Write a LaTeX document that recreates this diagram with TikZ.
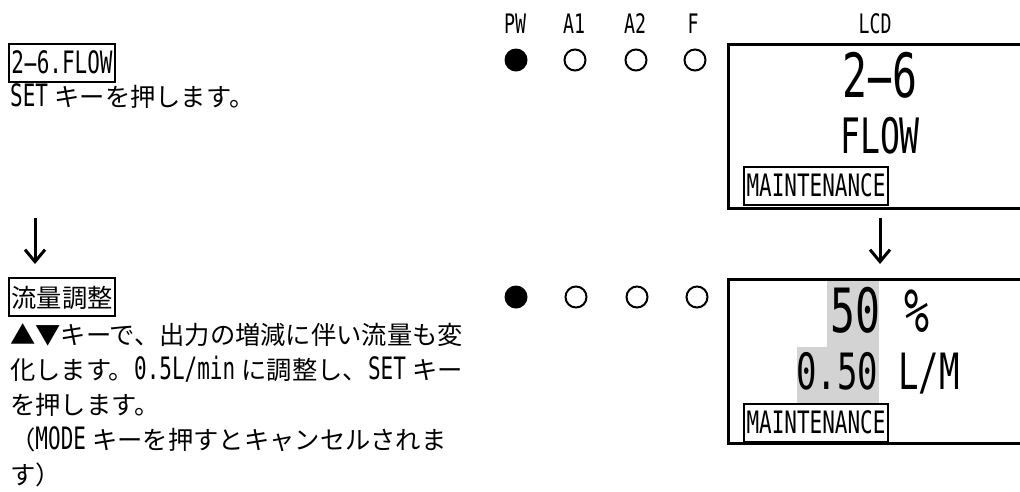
\documentclass[tikz,border=0pt]{standalone}
\usepackage{fontspec}
\setmainfont{Noto Sans CJK JP}
\newfontfamily\latf[Scale=1.22,FakeStretch=0.68]{DejaVu Sans Mono}
\newcommand\lt[1]{{\latf #1}}
\newcommand\jg{\hspace{0.25em}}
\newcommand\hy{\makebox[\fontcharwd\font`0][c]{\scalebox{2.2}[1]{-}}}
\usetikzlibrary{arrows.meta}
\definecolor{hl}{RGB}{211,211,211}
\begin{document}
\begin{tikzpicture}[x=1pt,y=-1pt,
  every node/.style={inner sep=0pt},
  body/.style={font=\fontsize{25.3pt}{35pt}\selectfont, anchor=base west},
  tbox/.style={body, draw, line width=2pt, inner xsep=2.5pt, text height=29.5pt, text depth=8.8pt},
  lbl/.style={font=\fontsize{22pt}{26pt}\selectfont\latf, anchor=base},
  ledoff/.style={circle, minimum size=21pt, line width=2pt, draw},
  ledon/.style={circle, minimum size=23pt, fill=black},
  lcd/.style={draw, line width=2.5pt, anchor=north west, minimum width=320pt, minimum height=164pt},
  big/.style={font=\fontsize{50pt}{55pt}\selectfont\latf, anchor=base},
  mid/.style={font=\fontsize{40pt}{44pt}\selectfont\latf, anchor=base},
  down/.style={line width=3pt, -{Straight Barb[length=12pt,width=20pt,line width=3pt]}}]
\useasboundingbox (0,0) rectangle (1020,491);
\clip (0,0) rectangle (1020,491);

% left column, block 1
\node[tbox] (h1) at (8,73) {\lt{2\hy 6.FLOW}};
\node[body] (s1) at (10,106.6) {\lt{SET}\jg キーを押します。};

% left arrow
\coordinate (la1) at (35,218);
\coordinate (la2) at (35,264);
\draw[down] (la1) -- (la2);

% left column, block 2
\node[tbox] (h2) at (8,307.6) {流量調整};
\node[body] (t1) at (10,344.6) {▲▼キーで、出力の増減に伴い流量も変};
\node[body] (t2) at (10,379.6) {化します。\lt{0.5L/min}\jg に調整し、\lt{SET}\jg キー};
\node[body] (t3) at (10,414.6) {を押します。};
\node[body] (t4) at (10,449.6) {（\lt{MODE}\jg キーを押すとキャンセルされま};
\node[body] (t5) at (10,484.6) {す）};

% LED labels
\node[lbl] (lpw) at (515,33) {PW};
\node[lbl] (la1l) at (574,33) {A1};
\node[lbl] (la2l) at (635,33) {A2};
\node[lbl] (lf) at (693,33) {F};
\node[lbl] (llcd) at (875,33) {LCD};

% LEDs row 1
\node[ledon] (pw1) at (516,60) {};
\node[ledoff] (a11) at (575,60) {};
\node[ledoff] (a21) at (636,60) {};
\node[ledoff] (f1) at (695,60) {};

% LCD 1
\node[lcd] (lcd1) at (727,43) {};
\node[big] (d1a) at (880,97) {2\hy 6};
\node[mid] (d1b) at (880,153) {FLOW};
\node[tbox, font=\fontsize{25.3pt}{35pt}\selectfont\latf] (m1) at (743,196.5) {MAINTENANCE};

% right arrow
\coordinate (ra1) at (880,218);
\coordinate (ra2) at (880,264);
\draw[down] (ra1) -- (ra2);

% LEDs row 2
\node[ledon] (pw2) at (516,297) {};
\node[ledoff] (a12) at (576,297) {};
\node[ledoff] (a22) at (637,297) {};
\node[ledoff] (f2) at (697,297) {};

% LCD 2
\fill[hl] (827,278) rectangle (879,347);
\fill[hl] (797,347) rectangle (879,404);
\node[lcd] (lcd2) at (727,278) {};
\node[big] (d2a) at (880,332) {50 \%};
\node[big, font=\fontsize{41pt}{45pt}\selectfont\latf] (d2b) at (878,389) {0.50 L/M};
\node[tbox, font=\fontsize{25.3pt}{35pt}\selectfont\latf] (m2) at (743,433.5) {MAINTENANCE};
\end{tikzpicture}
\end{document}
